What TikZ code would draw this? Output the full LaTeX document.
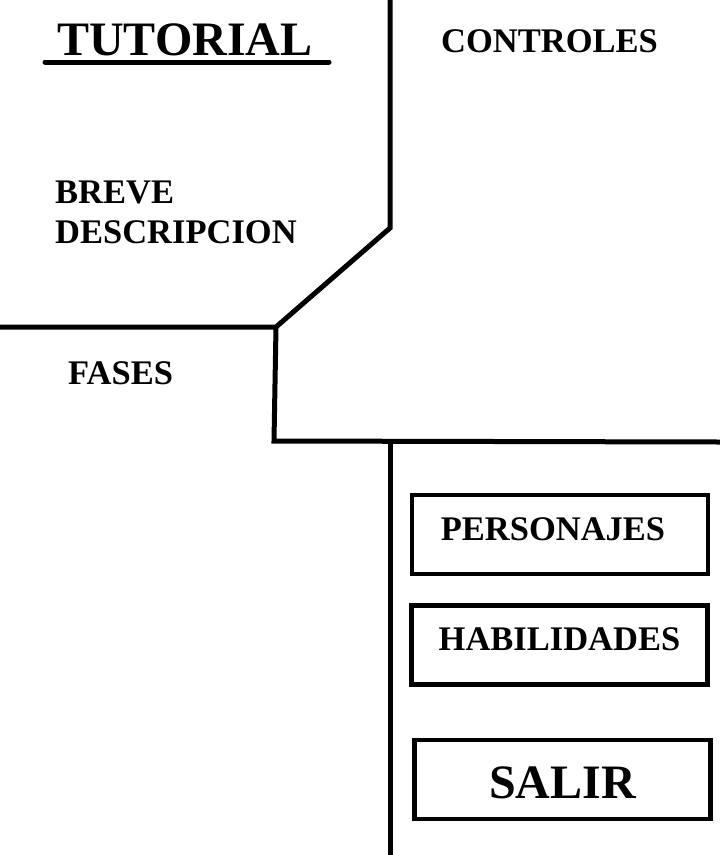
\documentclass[tikz,border=0pt]{standalone}
\usepackage{fontspec}
\setmainfont{Liberation Serif}
\tikzset{
  wall/.style={line width=5pt},
  lbl/.style={anchor=base west, inner sep=0pt, font=\bfseries\fontsize{34.5}{38}\selectfont},
  btn/.style={draw, line width=4.5pt, minimum width=296pt, minimum height=79pt, inner sep=0pt,
    font=\bfseries\fontsize{34.5}{38}\selectfont}
}
\begin{document}
\begin{tikzpicture}[x=1pt,y=-1pt]
    \useasboundingbox (0,0) rectangle (720,855);

    % lineas de la pantalla
    \draw[wall] (390,0) -- (390,228) -- (276,327) -- (0,327);
    \draw[wall] (276,327) -- (274,441) -- (720,442);
    \draw[wall] (390,442) -- (390,855);
    \draw[wall, line cap=round] (45,62) -- (329,62);

    \node[lbl, font=\bfseries\fontsize{48}{52}\selectfont] (tutorial) at (57,55) {TUTORIAL};
    \node[lbl] (controles) at (441,52) {CONTROLES};
    \node[lbl] (breve) at (55,203) {BREVE};
    \node[lbl] (descripcion) at (55,243) {DESCRIPCION};
    \node[lbl] (fases) at (68,384) {FASES};

    % botones
    \node[btn, text height=23pt, text depth=12pt] (personajes) at (560,534.5) {PERSONAJES\hspace*{14pt}};
    \node[btn, text height=23pt, text depth=13pt] (habilidades) at (559.5,645) {HABILIDADES};
    \node[btn, font=\bfseries\fontsize{48}{52}\selectfont, text height=37pt, text depth=0pt] (salir) at (562.5,779.5) {SALIR};
  \end{tikzpicture}
\end{document}
